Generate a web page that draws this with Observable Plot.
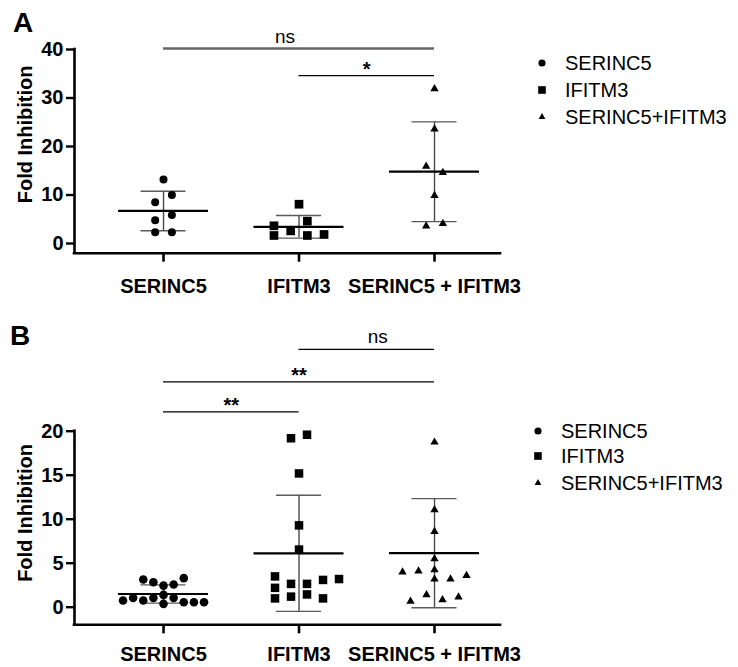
<!DOCTYPE html>
<html>
<head>
<meta charset="utf-8">
<script src="https://cdn.jsdelivr.net/npm/d3@7"></script>
<script src="https://cdn.jsdelivr.net/npm/@observablehq/plot@0.6"></script>
<style>
  html, body { margin: 0; padding: 0; background: #fff; }
  #wrap { position: relative; width: 738px; height: 667px; font-family: 'Liberation Sans', Arial, sans-serif; }
  #wrap > svg { display: block; }
</style>
</head>
<body>
<div id="wrap"></div>
<script>
// ---------- data ----------
const categories = ["SERINC5", "IFITM3", "SERINC5 + IFITM3"];
const legendLabels = ["SERINC5", "IFITM3", "SERINC5+IFITM3"];
const symbols = ["circle", "square", "triangle"];

// Panel A (fold inhibition per replicate)
const aSerinc5 = [13.2, 8.5, 10.0, 4.8, 5.9, 2.3, 2.3];
const aIfitm3 = [8.1, 3.65, 4.6, 1.65, 2.6, 1.65, 1.86];
const aCombo = [31.9, 23.6, 15.9, 14.6, 9.9, 3.6, 4.1];
const aMean = [6.71, 3.44, 14.8];
const aSD = [4.07, 2.33, 10.28];
const aTicks = [0, 10, 20, 30, 40];
const aSigFrom = [0, 1];
const aSigTo = [2, 2];
const aSigY = [40.2, 34.6];
const aSigLabel = ["ns", "*"];

// Panel B
const bSerinc5 = [3.14, 2.84, 2.45, 2.58, 3.3, 1.4, 0.76, 1.06, 0.76, 1.06, 0.38, 1.06, 0.57, 0.57, 0.57];
const bIfitm3 = [19.2, 19.6, 15.2, 9.3, 6.55, 3.5, 3.2, 2.2, 2.65, 2.65, 3.1, 1.0, 1.2, 1.45, 1.0];
const bCombo = [18.75, 11.06, 8.6, 5.5, 4.24, 3.98, 4.1, 3.2, 3.2, 3.6, 0.68, 1.4, 0.83, 1.14];
const bMean = [1.5, 6.12, 6.14];
const bSD = [1.04, 6.6, 6.2];
const bTicks = [0, 5, 10, 15, 20];
const bSigFrom = [1, 0, 0];
const bSigTo = [2, 2, 1];
const bSigY = [29.3, 25.6, 22.2];
const bSigLabel = ["ns", "**", "**"];

// ---------- layout helpers ----------
const FONT = "'Liberation Sans', Arial, sans-serif";

// GraphPad-like horizontal spreading of points in rows (computed, not typed)
function spread(values, pxPerY, slotPx, rowPx, sizePx, maxSpan) {
  const n = values.length;
  const order = d3.range(n).sort((a, b) => values[a] - values[b] || a - b);
  const rows = [];
  let cur = null;
  for (const i of order) {
    if (!cur || (values[i] - values[cur[0]]) * pxPerY >= rowPx) { cur = [i]; rows.push(cur); }
    else cur.push(i);
  }
  const maxN = d3.max(rows, r => r.length);
  const s = maxN > 1 ? Math.min(slotPx, maxSpan / (maxN - 1)) : slotPx;
  const off = new Array(n);
  const placed = [];
  const collides = (x, i) => placed.some(j =>
    Math.abs(off[j] - x) < sizePx - 0.01 && Math.abs(values[j] - values[i]) * pxPerY < sizePx - 0.01);
  for (const r of rows) {
    const inRow = r.slice().sort((a, b) => a - b);
    inRow.forEach((i, k) => {
      const want = (k - (inRow.length - 1) / 2) * s;
      let x = want;
      for (let step = 1; collides(x, i) && step < 20; step++) {
        const m = Math.ceil(step / 2) * (step % 2 ? -1 : 1);
        x = want + m * s;
      }
      off[i] = x;
      placed.push(i);
    });
  }
  return off;
}

function panel(cfg) {
  const width = 738, marginLeft = 74, marginRight = 238;
  const xDomain = [-0.657, 2.487];
  const {height, marginTop, marginBottom, yDomain} = cfg;
  const pxPerX = (width - marginLeft - marginRight) / (xDomain[1] - xDomain[0]);
  const pxPerY = (height - marginTop - marginBottom) / (yDomain[1] - yDomain[0]);

  const stats = cfg.mean.map((m, g) => ({g, mean: m, sd: cfg.sd[g]}));
  const sig = cfg.sigFrom.map((f, k) => ({from: f, to: cfg.sigTo[k], y: cfg.sigY[k], label: cfg.sigLabel[k]}));
  const groupPts = cfg.groups.map((vals, g) => {
    const off = spread(vals, pxPerY, cfg.slotPx, 8.5, 8.2, 81);
    return vals.map((v, i) => ({g, v, x: g + off[i] / pxPerX}));
  });

  const meanHalf = 45 / pxPerX, capHalf = 22.5 / pxPerX;
  const marks = [
    // SD whiskers
    Plot.ruleX(stats, {x: "g", y1: d => d.mean - d.sd, y2: d => d.mean + d.sd, stroke: "#4a4a4a", strokeWidth: 1.4}),
    Plot.ruleY(stats, {y: d => d.mean + d.sd, x1: d => d.g - capHalf, x2: d => d.g + capHalf, stroke: "#5a5a5a", strokeWidth: 1.4}),
    Plot.ruleY(stats, {y: d => d.mean - d.sd, x1: d => d.g - capHalf, x2: d => d.g + capHalf, stroke: "#5a5a5a", strokeWidth: 1.4}),
    // points
    Plot.dot(groupPts[0], {x: "x", y: "v", symbol: "circle", r: cfg.r[0], fill: "black", stroke: "none"}),
    Plot.dot(groupPts[1], {x: "x", y: "v", symbol: "square", r: cfg.r[1], fill: "black", stroke: "none"}),
    Plot.dot(groupPts[2], {x: "x", y: "v", symbol: "triangle", r: cfg.r[2], fill: "black", stroke: "none"}),
    // mean
    Plot.ruleY(stats, {y: "mean", x1: d => d.g - meanHalf, x2: d => d.g + meanHalf, stroke: "black", strokeWidth: 2.2}),
    // axes
    Plot.axisY({ticks: cfg.ticks, tickSize: 8, tickPadding: 3, fontSize: 20, fontWeight: "bold", label: null, strokeWidth: 2.4}),
    Plot.axisX({ticks: [0, 1, 2], tickFormat: i => categories[i], tickSize: 9, tickPadding: cfg.xPad, fontSize: 20, fontWeight: "bold", label: null, strokeWidth: 2.6}),
    Plot.ruleX([xDomain[0]], {y1: yDomain[0], y2: yDomain[1], strokeWidth: 2.6, strokeLinecap: "square"}),
    Plot.ruleY([yDomain[0]], {x1: xDomain[0], x2: xDomain[1], strokeWidth: 2.6, strokeLinecap: "square"}),
    Plot.text(["Fold Inhibition"], {frameAnchor: "left", textAnchor: "middle", lineAnchor: "middle",
      dx: -49, dy: cfg.labelDy, rotate: -90, fontSize: 20, fontWeight: "bold"})
  ];
  sig.forEach((s, k) => {
    const st = cfg.sigStyle[k];
    marks.push(Plot.ruleY([s], {y: "y", x1: "from", x2: "to", stroke: st.stroke, strokeWidth: st.w}));
    const isStar = s.label.includes("*");
    marks.push(Plot.text([s], {x: d => (d.from + d.to) / 2, y: "y", text: "label", lineAnchor: "bottom",
      dy: isStar ? 0 : -6, dx: st.dx || 0, fontSize: isStar ? 20 : 19, fontWeight: isStar ? "bold" : "normal"}));
  });

  return Plot.plot({
    width, height, marginLeft, marginRight, marginTop, marginBottom,
    x: {type: "linear", domain: xDomain, axis: null},
    y: {domain: yDomain, axis: null},
    style: {fontFamily: FONT, background: "white", overflow: "visible", color: "black"},
    marks
  });
}

const wrap = document.getElementById("wrap");
wrap.appendChild(panel({
  groups: [aSerinc5, aIfitm3, aCombo], mean: aMean, sd: aSD, ticks: aTicks,
  sigFrom: aSigFrom, sigTo: aSigTo, sigY: aSigY, sigLabel: aSigLabel,
  sigStyle: [{stroke: "#666", w: 2.4, dx: -14}, {stroke: "black", w: 1.3}],
  yDomain: [-2, 40], height: 310, marginTop: 49, marginBottom: 57.3, xPad: 17,
  slotPx: 16.7, r: [4.0, 4.9, 3.1], labelDy: -17
}));
wrap.appendChild(panel({
  groups: [bSerinc5, bIfitm3, bCombo], mean: bMean, sd: bSD, ticks: bTicks,
  sigFrom: bSigFrom, sigTo: bSigTo, sigY: bSigY, sigLabel: bSigLabel,
  sigStyle: [{stroke: "black", w: 1.3, dx: 11}, {stroke: "black", w: 1.3}, {stroke: "black", w: 1.3}],
  yDomain: [-2, 20], height: 357, marginTop: 120.7, marginBottom: 42.7, xPad: 13,
  slotPx: 16, r: [4.3, 4.8, 3.1], labelDy: -15
}));

// ---------- titles & legends overlay ----------
const ov = d3.select(wrap).append("svg")
  .attr("width", 738).attr("height", 667)
  .style("position", "absolute").style("left", "0px").style("top", "0px")
  .style("font-family", FONT);
ov.append("text").attr("x", 13).attr("y", 32).attr("font-size", 28).attr("font-weight", "bold").text("A");
ov.append("text").attr("x", 10).attr("y", 345).attr("font-size", 28).attr("font-weight", "bold").text("B");
const symSize = [40, 58, 20];
const d3sym = {circle: d3.symbolCircle, square: d3.symbolSquare, triangle: d3.symbolTriangle};
function legend(mx, tx, ys) {
  legendLabels.forEach((lab, k) => {
    ov.append("path").attr("transform", `translate(${mx},${ys[k]})`)
      .attr("d", d3.symbol(d3sym[symbols[k]], symSize[k])()).attr("fill", "black");
    ov.append("text").attr("x", tx).attr("y", ys[k]).attr("dy", "0.36em")
      .attr("font-size", 20).text(lab);
  });
}
legend(542, 565, [63, 90, 117]);
legend(538, 561, [431, 456, 483]);
</script>
</body>
</html>
